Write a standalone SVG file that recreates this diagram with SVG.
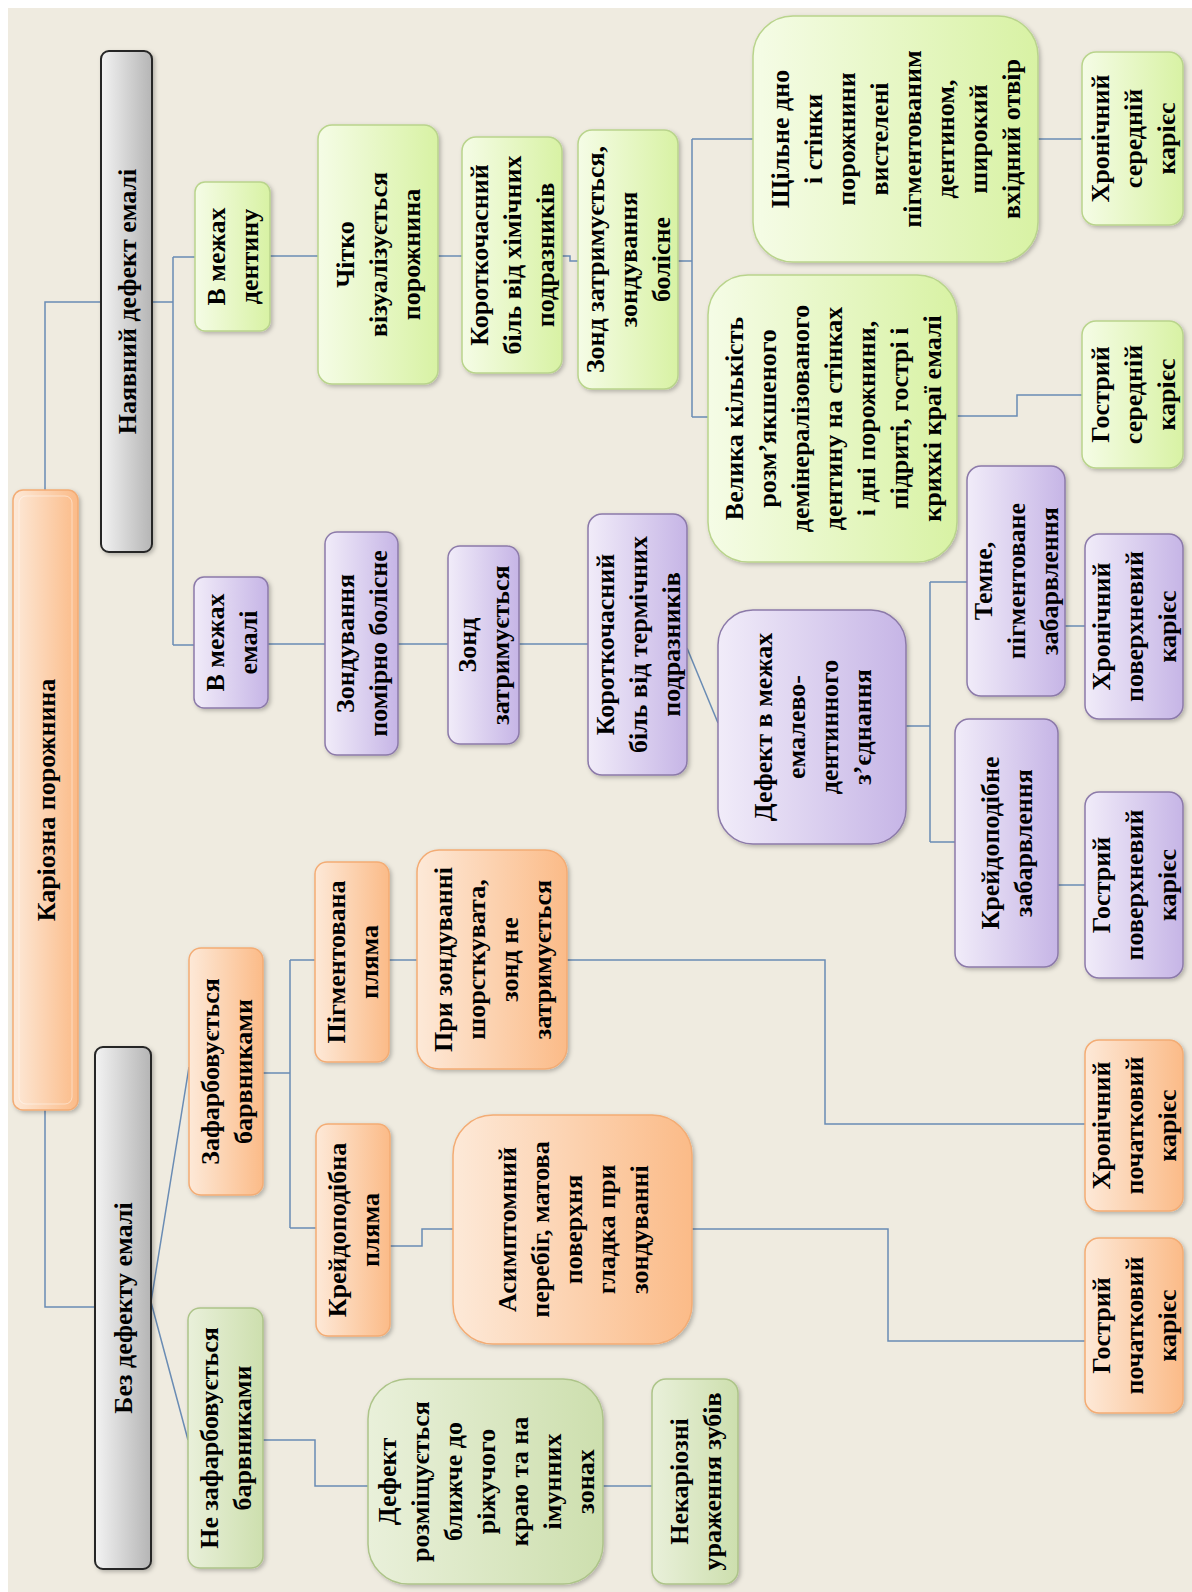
<svg xmlns="http://www.w3.org/2000/svg" width="1192" height="1592" viewBox="0 0 1192 1592">
<defs>
<linearGradient id="gOr" x1="0" y1="0" x2="1" y2="0"><stop offset="0" stop-color="#fde9d8"/><stop offset="1" stop-color="#fbbb88"/></linearGradient>
<linearGradient id="gLi" x1="0" y1="0" x2="1" y2="0"><stop offset="0" stop-color="#f5fce6"/><stop offset="1" stop-color="#d8f2a4"/></linearGradient>
<linearGradient id="gPu" x1="0" y1="0" x2="1" y2="0"><stop offset="0" stop-color="#f1ecf9"/><stop offset="1" stop-color="#c6b5e6"/></linearGradient>
<linearGradient id="gGr" x1="0" y1="0" x2="1" y2="0"><stop offset="0" stop-color="#f3f3f3"/><stop offset="1" stop-color="#b5b5b5"/></linearGradient>
<linearGradient id="gOl" x1="0" y1="0" x2="1" y2="0"><stop offset="0" stop-color="#e9f0da"/><stop offset="1" stop-color="#cddfae"/></linearGradient>
<filter id="sh" x="-10%" y="-10%" width="130%" height="130%"><feDropShadow dx="2" dy="2" stdDeviation="2" flood-color="#000" flood-opacity="0.25"/></filter>
</defs>
<style>
.or{fill:url(#gOr);stroke:#f3ac74;stroke-width:1.5;filter:url(#sh)}
.li{fill:url(#gLi);stroke:#b9d48c;stroke-width:1.5;filter:url(#sh)}
.pu{fill:url(#gPu);stroke:#8c7aa9;stroke-width:1.5;filter:url(#sh)}
.gr{fill:url(#gGr);stroke:#262626;stroke-width:2;filter:url(#sh)}
.ol{fill:url(#gOl);stroke:#adc489;stroke-width:1.5;filter:url(#sh)}
.t{font-family:"Liberation Serif","Times New Roman",serif;font-weight:bold;font-size:26px;fill:#000;text-anchor:middle}
.c{fill:none;stroke:#6a8cb4;stroke-width:1.5}
</style>
<rect x="0" y="0" width="1192" height="1592" fill="#ffffff"/>
<rect x="8" y="8" width="1184" height="1584" fill="#efebe0"/>

<g id="connectors">
<path class="c" d="M45,490 V302 H101"/>
<path class="c" d="M45,1110 V1307 H95"/>
<path class="c" d="M152,302 H173 M173,257 V645 M173,257 H195 M173,645 H194"/>
<path class="c" d="M270,256 H318"/>
<path class="c" d="M438,256 H462"/>
<path class="c" d="M562,256 H570 V261 H578"/>
<path class="c" d="M678,261 H692 M692,139 V417 M692,139 H753 M692,417 H708"/>
<path class="c" d="M1038,139 H1082"/>
<path class="c" d="M957,416 H1017 V395 H1082"/>
<path class="c" d="M268,644 H325 M398,644 H448 M519,644 H588"/>
<path class="c" d="M687,648 L718,723"/>
<path class="c" d="M906,726 H930 M930,582 V842 M930,582 H967 M930,842 H955"/>
<path class="c" d="M1065,626 H1085"/>
<path class="c" d="M1058,885 H1085"/>
<path class="c" d="M151,1302 L189,1067 M151,1302 L188,1440"/>
<path class="c" d="M263,1073 H290 M290,960 V1228 M290,960 H315 M290,1228 H316"/>
<path class="c" d="M389,960 H417"/>
<path class="c" d="M567,960 H825 V1124 H1085"/>
<path class="c" d="M390,1246 H422 V1229 H453"/>
<path class="c" d="M692,1229 H888 V1341 H1085"/>
<path class="c" d="M263,1440 H315 V1486 H368"/>
<path class="c" d="M603,1486 H652"/>
</g>

<g id="root"><rect class="or" x="13" y="490" width="65" height="620" rx="10"/><rect x="19" y="496" width="53" height="608" rx="7" fill="none" stroke="#fff" stroke-opacity="0.45"/>
<text class="t" transform="translate(45.5,800) rotate(-90)"><tspan x="0" y="9">Каріозна порожнина</tspan></text></g>

<g id="n_nayav"><rect class="gr" x="101" y="51" width="51" height="501" rx="8"/>
<text class="t" transform="translate(126.5,301.5) rotate(-90)"><tspan x="0" y="9">Наявний дефект емалі</tspan></text></g>

<g id="n_bez"><rect class="gr" x="95" y="1047" width="56" height="522" rx="8"/>
<text class="t" transform="translate(123,1308) rotate(-90)"><tspan x="0" y="9">Без дефекту емалі</tspan></text></g>

<g id="n_dent"><rect class="li" x="195" y="182" width="75" height="149" rx="10"/>
<text class="t" transform="translate(232.5,256.5) rotate(-90)"><tspan x="0" y="-7.5">В межах</tspan><tspan x="0" y="25.5">дентину</tspan></text></g>

<g id="n_chitko"><rect class="li" x="318" y="125" width="120" height="259" rx="14"/>
<text class="t" transform="translate(378,254.5) rotate(-90)"><tspan x="0" y="-24">Чітко</tspan><tspan x="0" y="9">візуалізується</tspan><tspan x="0" y="42">порожнина</tspan></text></g>

<g id="n_korhim"><rect class="li" x="462" y="137" width="100" height="236" rx="14"/>
<text class="t" transform="translate(512,255) rotate(-90)"><tspan x="0" y="-24">Короткочасний</tspan><tspan x="0" y="9">біль від хімічних</tspan><tspan x="0" y="42">подразників</tspan></text></g>

<g id="n_zond1"><rect class="li" x="578" y="130" width="100" height="259" rx="14"/>
<text class="t" transform="translate(628,259.5) rotate(-90)"><tspan x="0" y="-24">Зонд затримується,</tspan><tspan x="0" y="9">зондування</tspan><tspan x="0" y="42">болісне</tspan></text></g>

<g id="n_shchil"><rect class="li" x="753" y="16" width="285" height="246" rx="40"/>
<text class="t" transform="translate(895.5,139) rotate(-90)"><tspan x="0" y="-106.5">Щільне дно</tspan><tspan x="0" y="-73.5">і стінки</tspan><tspan x="0" y="-40.5">порожнини</tspan><tspan x="0" y="-7.5">вистелені</tspan><tspan x="0" y="25.5">пігментованим</tspan><tspan x="0" y="58.5">дентином,</tspan><tspan x="0" y="91.5">широкий</tspan><tspan x="0" y="124.5">вхідний отвір</tspan></text></g>

<g id="n_hronser"><rect class="li" x="1082" y="52" width="101" height="173" rx="14"/>
<text class="t" transform="translate(1132.5,138.5) rotate(-90)"><tspan x="0" y="-24">Хронічний</tspan><tspan x="0" y="9">середній</tspan><tspan x="0" y="42">карієс</tspan></text></g>

<g id="n_velyka"><rect class="li" x="708" y="275" width="249" height="287" rx="40"/>
<text class="t" transform="translate(832.5,418.5) rotate(-90)"><tspan x="0" y="-90">Велика кількість</tspan><tspan x="0" y="-57">розм’якшеного</tspan><tspan x="0" y="-24">демінералізованого</tspan><tspan x="0" y="9">дентину на стінках</tspan><tspan x="0" y="42">і дні порожнини,</tspan><tspan x="0" y="75">підриті, гострі і</tspan><tspan x="0" y="108">крихкі краї емалі</tspan></text></g>

<g id="n_gostser"><rect class="li" x="1082" y="321" width="101" height="147" rx="14"/>
<text class="t" transform="translate(1132.5,394.5) rotate(-90)"><tspan x="0" y="-24">Гострий</tspan><tspan x="0" y="9">середній</tspan><tspan x="0" y="42">карієс</tspan></text></g>

<g id="n_emal"><rect class="pu" x="194" y="577" width="74" height="131" rx="10"/>
<text class="t" transform="translate(231,642.5) rotate(-90)"><tspan x="0" y="-7.5">В межах</tspan><tspan x="0" y="25.5">емалі</tspan></text></g>

<g id="n_zondpom"><rect class="pu" x="325" y="532" width="73" height="223" rx="12"/>
<text class="t" transform="translate(361.5,643.5) rotate(-90)"><tspan x="0" y="-7.5">Зондування</tspan><tspan x="0" y="25.5">помірно болісне</tspan></text></g>

<g id="n_zond2"><rect class="pu" x="448" y="546" width="71" height="198" rx="12"/>
<text class="t" transform="translate(483.5,645) rotate(-90)"><tspan x="0" y="-7.5">Зонд</tspan><tspan x="0" y="25.5">затримується</tspan></text></g>

<g id="n_korterm"><rect class="pu" x="588" y="514" width="99" height="261" rx="14"/>
<text class="t" transform="translate(637.5,644.5) rotate(-90)"><tspan x="0" y="-24">Короткочасний</tspan><tspan x="0" y="9">біль від термічних</tspan><tspan x="0" y="42">подразників</tspan></text></g>

<g id="n_defekt"><rect class="pu" x="718" y="610" width="188" height="234" rx="35"/>
<text class="t" transform="translate(812,727) rotate(-90)"><tspan x="0" y="-40.5">Дефект в межах</tspan><tspan x="0" y="-7.5">емалево-</tspan><tspan x="0" y="25.5">дентинного</tspan><tspan x="0" y="58.5">з’єднання</tspan></text></g>

<g id="n_temne"><rect class="pu" x="967" y="466" width="98" height="230" rx="14"/>
<text class="t" transform="translate(1016,581) rotate(-90)"><tspan x="0" y="-24">Темне,</tspan><tspan x="0" y="9">пігментоване</tspan><tspan x="0" y="42">забарвлення</tspan></text></g>

<g id="n_hronpov"><rect class="pu" x="1085" y="534" width="98" height="185" rx="14"/>
<text class="t" transform="translate(1134,626.5) rotate(-90)"><tspan x="0" y="-24">Хронічний</tspan><tspan x="0" y="9">поверхневий</tspan><tspan x="0" y="42">карієс</tspan></text></g>

<g id="n_kreidzab"><rect class="pu" x="955" y="719" width="103" height="248" rx="14"/>
<text class="t" transform="translate(1006.5,843) rotate(-90)"><tspan x="0" y="-7.5">Крейдоподібне</tspan><tspan x="0" y="25.5">забарвлення</tspan></text></g>

<g id="n_gostpov"><rect class="pu" x="1085" y="792" width="98" height="186" rx="14"/>
<text class="t" transform="translate(1134,885) rotate(-90)"><tspan x="0" y="-24">Гострий</tspan><tspan x="0" y="9">поверхневий</tspan><tspan x="0" y="42">карієс</tspan></text></g>

<g id="n_zafarb"><rect class="or" x="189" y="948" width="74" height="247" rx="12"/>
<text class="t" transform="translate(226,1071.5) rotate(-90)"><tspan x="0" y="-7.5">Зафарбовується</tspan><tspan x="0" y="25.5">барвниками</tspan></text></g>

<g id="n_pigm"><rect class="or" x="315" y="862" width="74" height="200" rx="12"/>
<text class="t" transform="translate(352,962) rotate(-90)"><tspan x="0" y="-7.5">Пігментована</tspan><tspan x="0" y="25.5">пляма</tspan></text></g>

<g id="n_pry"><rect class="or" x="417" y="850" width="150" height="219" rx="22"/>
<text class="t" transform="translate(492,959.5) rotate(-90)"><tspan x="0" y="-40.5">При зондуванні</tspan><tspan x="0" y="-7.5">шорсткувата,</tspan><tspan x="0" y="25.5">зонд не</tspan><tspan x="0" y="58.5">затримується</tspan></text></g>

<g id="n_hronpoch"><rect class="or" x="1085" y="1040" width="98" height="171" rx="14"/>
<text class="t" transform="translate(1134,1125.5) rotate(-90)"><tspan x="0" y="-24">Хронічний</tspan><tspan x="0" y="9">початковий</tspan><tspan x="0" y="42">карієс</tspan></text></g>

<g id="n_kreidpl"><rect class="or" x="316" y="1124" width="74" height="212" rx="12"/>
<text class="t" transform="translate(353,1230) rotate(-90)"><tspan x="0" y="-7.5">Крейдоподібна</tspan><tspan x="0" y="25.5">пляма</tspan></text></g>

<g id="n_asympt"><rect class="or" x="453" y="1115" width="239" height="229" rx="40"/>
<text class="t" transform="translate(572.5,1229.5) rotate(-90)"><tspan x="0" y="-57">Асимптомний</tspan><tspan x="0" y="-24">перебіг, матова</tspan><tspan x="0" y="9">поверхня</tspan><tspan x="0" y="42">гладка при</tspan><tspan x="0" y="75">зондуванні</tspan></text></g>

<g id="n_gostpoch"><rect class="or" x="1085" y="1238" width="98" height="175" rx="14"/>
<text class="t" transform="translate(1134,1325.5) rotate(-90)"><tspan x="0" y="-24">Гострий</tspan><tspan x="0" y="9">початковий</tspan><tspan x="0" y="42">карієс</tspan></text></g>

<g id="n_nezafarb"><rect class="ol" x="188" y="1308" width="75" height="260" rx="12"/>
<text class="t" transform="translate(225.5,1438) rotate(-90)"><tspan x="0" y="-7.5">Не зафарбовується</tspan><tspan x="0" y="25.5">барвниками</tspan></text></g>

<g id="n_defrozm"><rect class="ol" x="368" y="1379" width="235" height="205" rx="40"/>
<text class="t" transform="translate(485.5,1481.5) rotate(-90)"><tspan x="0" y="-90">Дефект</tspan><tspan x="0" y="-57">розміщується</tspan><tspan x="0" y="-24">ближче до</tspan><tspan x="0" y="9">ріжучого</tspan><tspan x="0" y="42">краю та на</tspan><tspan x="0" y="75">імунних</tspan><tspan x="0" y="108">зонах</tspan></text></g>

<g id="n_nekar"><rect class="ol" x="652" y="1379" width="86" height="205" rx="14"/>
<text class="t" transform="translate(695,1481.5) rotate(-90)"><tspan x="0" y="-7.5">Некаріозні</tspan><tspan x="0" y="25.5">ураження зубів</tspan></text></g>
</svg>
